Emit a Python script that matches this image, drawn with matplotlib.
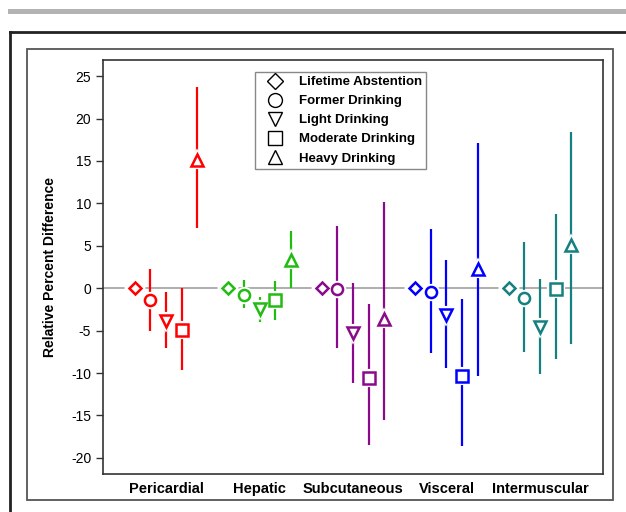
import numpy as np
import matplotlib
matplotlib.use('Agg')
import matplotlib.pyplot as plt
from matplotlib.lines import Line2D
from matplotlib.patches import Rectangle

plt.rcParams['font.family'] = ['Liberation Sans', 'DejaVu Sans']
plt.rcParams['axes.unicode_minus'] = False

# data
depots = ['Pericardial', 'Hepatic', 'Subcutaneous', 'Visceral', 'Intermuscular']
groups = ['Lifetime Abstention', 'Former Drinking', 'Light Drinking',
          'Moderate Drinking', 'Heavy Drinking']
markers = ['D', 'o', 'v', 's', '^']
colors = ['#ff0000', '#22bb11', '#8b0a8b', '#0000ff', '#148080']

# rows = depot, cols = drinking group
est = [[0, -1.4, -3.9, -4.9, 15.1],
       [0, -0.75, -2.4, -1.4, 3.3],
       [0, -0.15, -5.3, -10.55, -3.6],
       [0, -0.5, -3.2, -10.3, 2.3],
       [0, -1.2, -4.55, -0.1, 5.05]]
lower = [[0, -5.1, -7.1, -9.6, 7.1],
         [0, -2.3, -4.0, -3.7, 0.0],
         [0, -7.0, -11.2, -18.5, -15.5],
         [0, -7.6, -9.4, -18.6, -10.4],
         [0, -7.5, -10.1, -8.35, -6.6]]
upper = [[0, 2.3, -0.5, 0.0, 23.7],
         [0, 1.0, -1.0, 0.8, 6.8],
         [0, 7.3, 0.6, -1.9, 10.2],
         [0, 7.0, 3.3, -1.3, 17.1],
         [0, 5.45, 1.05, 8.8, 18.4]]

W, H = 626, 512
fig = plt.figure(figsize=(W / 100, H / 100), dpi=100)

# page decorations (grey bar, outer black frame, inner grey frame)
fig.patches.append(Rectangle((8 / W, 1 - 13.5 / H), 1, 5 / H, transform=fig.transFigure,
                             facecolor='#b3b3b3', edgecolor='none'))
fig.lines.append(Line2D([10 / W, 10 / W], [0, 1 - 32 / H], transform=fig.transFigure,
                        color='#222222', lw=2))
fig.lines.append(Line2D([10 / W, 1], [1 - 32 / H, 1 - 32 / H], transform=fig.transFigure,
                        color='#222222', lw=2))
fig.patches.append(Rectangle((27 / W, 1 - 500 / H), 586 / W, 451 / H, transform=fig.transFigure,
                             facecolor='none', edgecolor='#555555', lw=1.3))

ax = fig.add_axes([103 / W, 1 - 474 / H, 500 / W, 414 / H])

offsets = np.array([-2, -1, 0, 1, 2]) / 6.0
for i, d in enumerate(depots):
    c = colors[i]
    for j in range(len(groups)):
        x = i + 1 + offsets[j]
        m = markers[j]
        size = 8.0 if m in 'os' else (9.0 if m in 'v^' else 6.5)
        if upper[i][j] != lower[i][j]:
            ax.vlines(x, lower[i][j], upper[i][j], color=c, lw=1.6, zorder=2)
        # white halo leaves a small gap between marker and error line
        ax.plot(x, est[i][j], marker=m, ms=size + 1.5, mfc='white', mec='white', mew=3, zorder=3)
        ax.plot(x, est[i][j], marker=m, ms=size, mfc='white', mec=c, mew=1.8, zorder=4)

ax.axhline(0, color='#999999', lw=1.1, zorder=1)

ax.set_xlim(0.326, 5.674)
ax.set_ylim(-21.9, 26.9)
ax.set_xticks(range(1, 6))
ax.set_xticklabels(depots, fontsize=10.5, fontweight='bold')
ax.tick_params(axis='x', length=0, pad=6)
ax.set_yticks(range(-20, 30, 5))
ax.tick_params(axis='y', labelsize=10, length=5, width=1, color='#333333')
for s in ax.spines.values():
    s.set_color('#333333')
    s.set_linewidth(1.2)
ax.set_ylabel('Relative Percent Difference', fontsize=10, fontweight='bold', labelpad=10)

handles = [Line2D([], [], marker=m, ls='none', mfc='white', mec='black', mew=1.0,
                  ms=10 if m != 'D' else 8) for m in markers]
leg = ax.legend(handles, groups, loc='upper left', bbox_to_anchor=(0.304, 0.971),
                borderaxespad=0, fancybox=False, framealpha=1, edgecolor='#888888',
                prop={'weight': 'bold', 'size': 9.5}, labelspacing=0.52,
                handlelength=2.4, handletextpad=0.6, borderpad=0.3)
leg.get_frame().set_linewidth(1.0)

plt.savefig('out.png', dpi=100)
